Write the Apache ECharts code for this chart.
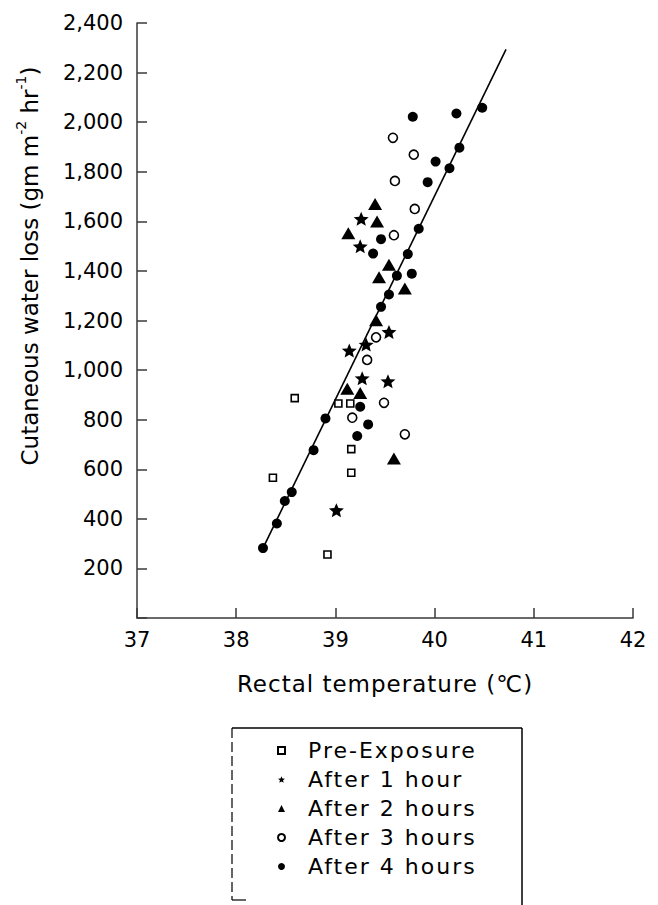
<!DOCTYPE html>
<html>
<head>
<meta charset="utf-8">
<script src="https://cdn.jsdelivr.net/npm/echarts@6/dist/echarts.min.js"></script>
<style>
  html, body { margin: 0; padding: 0; background: #fff; }
  #chart { width: 658px; height: 905px; }
</style>
</head>
<body>
<div id="chart"></div>
<script>
// ---- data ----
const xTicks = [37, 38, 39, 40, 41, 42];
const yTicks = [200, 400, 600, 800, 1000, 1200, 1400, 1600, 1800, 2000, 2200, 2400];
const xTitle = 'Rectal temperature (℃)';
const yTitleParts = ['Cutaneous water loss (gm m', '-2', ' hr', '-1', ')'];
const legendNames = ['Pre-Exposure', 'After 1 hour', 'After 2 hours', 'After 3 hours', 'After 4 hours'];

const preExposure = [[38.59, 887], [38.37, 566], [38.92, 256], [39.03, 865], [39.15, 865], [39.16, 681], [39.16, 586]];
const after1h = [[39.26, 1610], [39.25, 1499], [39.54, 1154], [39.31, 1103], [39.14, 1079], [39.27, 967], [39.53, 955], [39.01, 435]];
const after2h = [[39.40, 1670], [39.42, 1599], [39.13, 1552], [39.54, 1425], [39.44, 1374], [39.70, 1329], [39.41, 1201], [39.12, 925], [39.25, 908], [39.59, 643]];
const after3h = [[39.58, 1937], [39.79, 1869], [39.60, 1763], [39.80, 1650], [39.59, 1544], [39.41, 1132], [39.32, 1041], [39.49, 868], [39.17, 808], [39.70, 741]];
const after4h = [[39.78, 2022], [40.22, 2035], [40.48, 2058], [40.25, 1897], [40.01, 1841], [40.15, 1814], [39.93, 1758], [39.84, 1570],
  [39.46, 1528], [39.38, 1470], [39.73, 1468], [39.62, 1381], [39.77, 1389], [39.54, 1305], [39.46, 1255], [39.25, 852], [39.33, 781],
  [39.22, 734], [38.90, 805], [38.78, 677], [38.56, 508], [38.49, 472], [38.41, 381], [38.27, 282]];
const fitLine = [[38.27, 282], [40.72, 2294]];

// ---- chart ----
const STAR = 'path://M0,-10 L2.645,-3.64 L9.51,-3.09 L4.28,1.39 L5.88,8.09 L0,4.5 L-5.88,8.09 L-4.28,1.39 L-9.51,-3.09 L-2.645,-3.64 Z';
const axisColor = '#3a3a3a';
const chart = echarts.init(document.getElementById('chart'), null, { renderer: 'svg' });

const openStyle = { color: '#fff', borderColor: '#000', borderWidth: 1.6, opacity: 1 };
const fillStyle = { color: '#000', opacity: 1 };

chart.setOption({
  animation: false,
  backgroundColor: '#fff',
  grid: { left: 137, right: 25, top: 23, bottom: 287, containLabel: false },
  xAxis: {
    type: 'value', min: xTicks[0], max: xTicks[xTicks.length - 1], interval: 1,
    name: xTitle, nameLocation: 'middle', nameGap: 54,
    nameTextStyle: { fontFamily: 'DejaVu Sans', fontSize: 23, color: '#000' },
    axisLine: { show: true, lineStyle: { color: axisColor, width: 1.5 } },
    axisTick: { show: true, inside: true, length: 10, lineStyle: { color: axisColor, width: 1.5 } },
    axisLabel: { margin: 11, fontFamily: 'DejaVu Sans', fontSize: 21, color: '#000',
      formatter: v => xTicks.indexOf(v) >= 0 ? String(v) : '' },
    splitLine: { show: false }
  },
  yAxis: {
    type: 'value', min: 0, max: yTicks[yTicks.length - 1], interval: 200,
    axisLine: { show: true, lineStyle: { color: axisColor, width: 1.5 } },
    axisTick: { show: true, inside: true, length: 10, lineStyle: { color: axisColor, width: 1.5 } },
    axisLabel: { margin: 14, fontFamily: 'DejaVu Sans', fontSize: 21, color: '#000',
      formatter: v => yTicks.indexOf(v) >= 0 ? v.toLocaleString('en-US') : '' },
    splitLine: { show: false }
  },
  legend: {
    data: legendNames,
    orient: 'vertical', left: 277, top: 736, padding: 0,
    itemWidth: 7, itemHeight: 7, itemGap: 0,
    textStyle: { fontFamily: 'DejaVu Sans', fontSize: 22, color: '#000', lineHeight: 29, padding: [0, 0, 0, 18] },
    selectedMode: false
  },
  graphic: [
    {
      type: 'text', silent: true,
      x: 30, y: 266, rotation: Math.PI / 2,
      style: {
        text: yTitleParts[0] + '{sup|' + yTitleParts[1] + '}' + yTitleParts[2] + '{sup|' + yTitleParts[3] + '}' + yTitleParts[4],
        font: '23px "DejaVu Sans"', fill: '#000', align: 'center', verticalAlign: 'middle', lineHeight: 32,
        rich: { sup: { fontSize: 14, fontFamily: 'DejaVu Sans', lineHeight: 14, verticalAlign: 'top', fill: '#000' } }
      }
    },
    { type: 'line', silent: true, shape: { x1: 232, y1: 728, x2: 522, y2: 728 }, style: { stroke: '#000', lineWidth: 1.5 } },
    { type: 'line', silent: true, shape: { x1: 522, y1: 728, x2: 522, y2: 905 }, style: { stroke: '#000', lineWidth: 1.5 } },
    { type: 'line', silent: true, shape: { x1: 232, y1: 728, x2: 232, y2: 900 }, style: { stroke: '#000', lineWidth: 1.2, lineDash: [10, 4] } },
    { type: 'line', silent: true, shape: { x1: 232, y1: 900, x2: 246, y2: 900 }, style: { stroke: '#000', lineWidth: 1.2 } }
  ],
  series: [
    { name: 'fit', type: 'line', data: fitLine, symbol: 'none', z: 1,
      lineStyle: { color: '#000', width: 1.6 } },
    { name: legendNames[0], type: 'scatter', data: preExposure, symbol: 'rect', symbolSize: 7, itemStyle: openStyle, z: 3 },
    { name: legendNames[1], type: 'scatter', data: after1h, symbol: STAR, symbolSize: [15, 14], itemStyle: fillStyle, z: 3 },
    { name: legendNames[2], type: 'scatter', data: after2h, symbol: 'triangle', symbolSize: [14, 12], itemStyle: fillStyle, z: 3 },
    { name: legendNames[3], type: 'scatter', data: after3h, symbol: 'circle', symbolSize: 9, itemStyle: openStyle, z: 3 },
    { name: legendNames[4], type: 'scatter', data: after4h, symbol: 'circle', symbolSize: 10, itemStyle: fillStyle, z: 3 }
  ]
});

// the reference typeface is widely spaced: add letter spacing to legend and x title texts
function spaceTexts() {
  const svg = document.querySelector('#chart svg');
  if (!svg) return;
  svg.querySelectorAll('text').forEach(t => {
    const s = t.textContent;
    if (legendNames.indexOf(s) >= 0) t.setAttribute('letter-spacing', '2');
    else if (s === xTitle) t.setAttribute('letter-spacing', '1');
  });
}
spaceTexts();
chart.on('finished', spaceTexts);
</script>
</body>
</html>
